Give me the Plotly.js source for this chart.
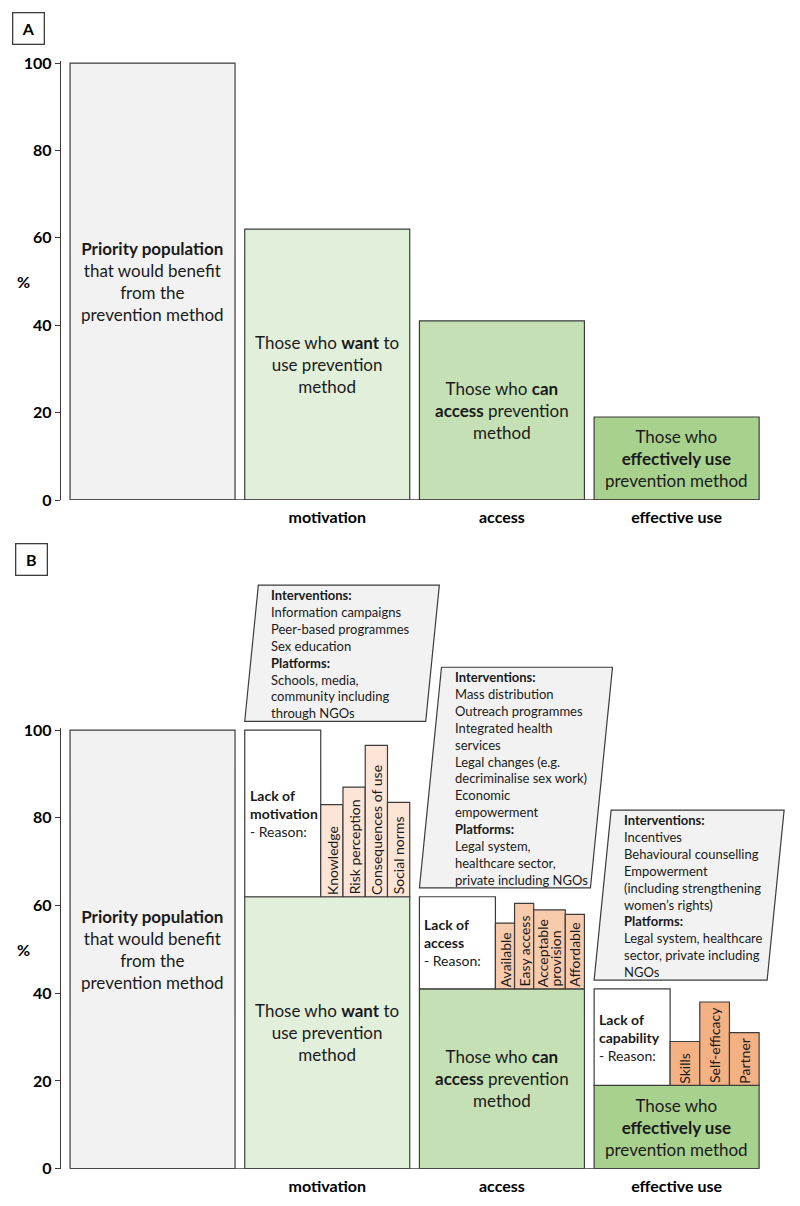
<!DOCTYPE html>
<html>
<head>
<meta charset="utf-8">
<script src="https://cdn.plot.ly/plotly-3.0.1.min.js"></script>
<style>
  html, body { margin: 0; padding: 0; background: #fff; }
  #chart { width: 800px; height: 1206px; }
</style>
</head>
<body>
<div id="chart"></div>
<script>
// stages of the prevention cascade (% of priority population)
const stages = ['', 'motivation', 'access', 'effective use'];
const stageShare = [100, 62, 41, 19];
const stageText = [
  '<b>Priority population</b><br>that would benefit<br>from the<br>prevention method',
  'Those who <b>want</b> to<br>use prevention<br>method',
  'Those who <b>can</b><br><b>access</b> prevention<br>method',
  'Those who<br><b>effectively use</b><br>prevention method'
];
const gapText = ['', 'motivation', 'access', 'capability'];

// reasons for the drop between stages (top of each reason bar, %)
const motivationReasons = ['Knowledge', 'Risk perception', 'Consequences of use', 'Social norms'];
const motivationValues = [83, 87, 96.5, 83.5];
const accessReasons = ['Available', 'Easy access', 'Acceptable<br>provision', 'Affordable'];
const accessValues = [56, 60.5, 59, 58];
const useReasons = ['Skills', 'Self-efficacy', 'Partner'];
const useValues = [29, 38, 31];

// interventions / platforms per stage
const motivationInterventions = ['Information campaigns', 'Peer-based programmes', 'Sex education'];
const motivationPlatforms = ['Schools, media,', 'community including', 'through NGOs'];
const accessInterventions = ['Mass distribution', 'Outreach programmes', 'Integrated health', 'services',
  'Legal changes (e.g.', 'decriminalise sex work)', 'Economic', 'empowerment'];
const accessPlatforms = ['Legal system,', 'healthcare sector,', 'private including NGOs'];
const useInterventions = ['Incentives', 'Behavioural counselling', 'Empowerment',
  '(including strengthening', 'women\u2019s rights)'];
const usePlatforms = ['Legal system, healthcare', 'sector, private including', 'NGOs'];

// ---- layout constants ----
const W = 800, H = 1206;
const pitch = 174.7;            // px per stage
const xMin = -0.524, xMax = 3.649;
const barW = 0.9445, lackW = 0.435;
const yTop = 100.4;
const domA = [(H - 500) / H, (H - 61.3) / H];
const domB = [(H - 1168.7) / H, (H - 728.3) / H];
const font = 'Lato, "Open Sans", sans-serif';
const edge = '#3c3c3c';
const ink = '#1a1a1a';
const stageColors = ['#f2f2f2', '#e2efda', '#c5e0b4', '#a9d18e'];
const reasonColors = ['#fce4d6', '#f8cbad', '#f4b183'];
const boxW = [181, 171, 173];

const reasons = [
  {names: motivationReasons, vals: motivationValues},
  {names: accessReasons, vals: accessValues},
  {names: useReasons, vals: useValues}
];
const callouts = [
  {iv: motivationInterventions, pf: motivationPlatforms},
  {iv: accessInterventions, pf: accessPlatforms},
  {iv: useInterventions, pf: usePlatforms}
];

const idx = stages.map((s, i) => i);
let traces = [];
let annotations = [];
let shapes = [];

// main stage bars, both panels
[['x', 'y'], ['x2', 'y2']].forEach(([xa, ya]) => {
  traces.push({
    type: 'bar', x: idx, y: stageShare, width: barW, xaxis: xa, yaxis: ya,
    marker: {color: stageColors, line: {color: edge, width: 1.2}},
    hoverinfo: 'skip'
  });
  idx.forEach(i => {
    annotations.push({
      xref: xa, yref: ya, x: i, y: stageShare[i] / 2, text: stageText[i],
      showarrow: false, font: {family: font, size: 17, color: ink}
    });
  });
  shapes.push({type: 'line', xref: xa, yref: ya, x0: -barW / 2, x1: 3 + barW / 2, y0: 0, y1: 0,
    line: {color: edge, width: 1.5}});
});

// panel B: gap ("lack of") bars
const gi = idx.slice(1);
traces.push({
  type: 'bar', xaxis: 'x2', yaxis: 'y2', x: gi,
  base: gi.map(i => stageShare[i]),
  y: gi.map(i => stageShare[i - 1] - stageShare[i]),
  width: lackW, offset: -barW / 2,
  marker: {color: '#ffffff', line: {color: edge, width: 1.2}},
  hoverinfo: 'skip'
});
gi.forEach(i => {
  annotations.push({
    xref: 'x2', yref: 'y2', x: i - barW / 2 + 3 / pitch,
    y: (stageShare[i] + stageShare[i - 1]) / 2,
    xanchor: 'left', align: 'left', showarrow: false,
    text: '<b>Lack of<br>' + gapText[i] + '</b><br>- Reason:',
    font: {family: font, size: 14, color: ink}
  });
});

// panel B: reason bars
reasons.forEach((r, k) => {
  const i = k + 1;
  const base = stageShare[i];
  const wts = r.names.map(n => 1 + 0.65 * (n.split('<br>').length - 1));
  const tot = wts.reduce((a, b) => a + b, 0);
  const room = barW - lackW;
  let cur = -barW / 2 + lackW;
  const offs = [], wids = [];
  wts.forEach(w => { offs.push(cur); wids.push(room * w / tot); cur += room * w / tot; });
  traces.push({
    type: 'bar', xaxis: 'x2', yaxis: 'y2',
    x: r.names.map(() => i), base: r.names.map(() => base),
    y: r.vals.map(v => v - base), offset: offs, width: wids,
    marker: {color: reasonColors[k], line: {color: edge, width: 1.2}},
    hoverinfo: 'skip'
  });
  r.names.forEach((n, j) => {
    const parts = n.split('<br>');
    parts.forEach((p, m) => {
      const shift = (m - (parts.length - 1) / 2) * 12.4 / pitch;
      annotations.push({
        xref: 'x2', yref: 'y2', x: i + offs[j] + wids[j] / 2 + shift, y: base,
        yanchor: 'bottom', textangle: -90, showarrow: false, text: p,
        font: {family: font, size: 14, color: ink}
      });
    });
  });
});

// panel B: intervention callouts
const paperB = v => domB[0] + v / yTop * (domB[1] - domB[0]);
callouts.forEach((c, k) => {
  const i = k + 1;
  const lines = ['<b>Interventions:</b>'].concat(c.iv, ['<b>Platforms:</b>'], c.pf);
  const hPx = 16.9 * lines.length + 1;
  const slant = 0.1 * hPx / pitch;
  const left = i - barW / 2;
  const right = left + boxW[k] / pitch;
  const y0 = paperB(stageShare[i - 1] + 2);
  const y1 = y0 + hPx / H;
  shapes.push({
    type: 'path', xref: 'x2', yref: 'paper', layer: 'above',
    path: `M ${left},${y0} L ${right},${y0} L ${right + slant},${y1} L ${left + slant},${y1} Z`,
    fillcolor: '#f2f2f2', line: {color: edge, width: 1.2}
  });
  annotations.push({
    xref: 'x2', yref: 'paper', x: left + slant + 11 / pitch, y: y1,
    xanchor: 'left', yanchor: 'top', align: 'left', showarrow: false,
    text: lines.join('<br>'), font: {family: font, size: 13, color: ink}
  });
});

// axis "%" labels and panel letters
[['y', 'A', 29, 28.7], ['y2', 'B', 31, 559.5]].forEach(([ya, letter, cx, cy]) => {
  annotations.push({xref: 'paper', yref: ya, x: 23 / W, y: 50, xanchor: 'center', yanchor: 'middle',
    text: '<b>%</b>', showarrow: false, font: {family: font, size: 16, color: '#000'}});
  annotations.push({xref: 'paper', yref: 'paper', x: cx / W, y: (H - cy) / H,
    xanchor: 'center', yanchor: 'middle',
    text: '<b>' + letter + '</b>', showarrow: false, width: 30, height: 30, borderpad: 0,
    bordercolor: edge, borderwidth: 1.3, font: {family: font, size: 16, color: '#000'}});
});

const xAxis = {
  domain: [61 / W, 790 / W], range: [xMin, xMax], showgrid: false, zeroline: false,
  showline: false, ticks: '', tickvals: [1, 2, 3], ticktext: stages.slice(1),
  tickfont: {family: font, size: 16, weight: 'bold', color: '#000'}, ticklabelstandoff: 6
};
const yAxis = {
  range: [0, yTop], tickvals: [0, 20, 40, 60, 80, 100], showgrid: false, zeroline: false,
  showline: true, linecolor: edge, linewidth: 1.2, ticks: 'outside', ticklen: 5,
  tickcolor: edge, tickfont: {family: font, size: 16, weight: 'bold', color: '#000'}
};

const layout = {
  width: W, height: H, margin: {l: 0, r: 0, t: 0, b: 0},
  paper_bgcolor: '#fff', plot_bgcolor: 'rgba(0,0,0,0)',
  barmode: 'overlay', showlegend: false,
  xaxis: Object.assign({}, xAxis, {anchor: 'y'}),
  yaxis: Object.assign({}, yAxis, {domain: domA, anchor: 'x'}),
  xaxis2: Object.assign({}, xAxis, {anchor: 'y2'}),
  yaxis2: Object.assign({}, yAxis, {domain: domB, anchor: 'x2'}),
  annotations: annotations, shapes: shapes
};

Plotly.newPlot('chart', traces, layout, {staticPlot: true, displayModeBar: false});
</script>
</body>
</html>
